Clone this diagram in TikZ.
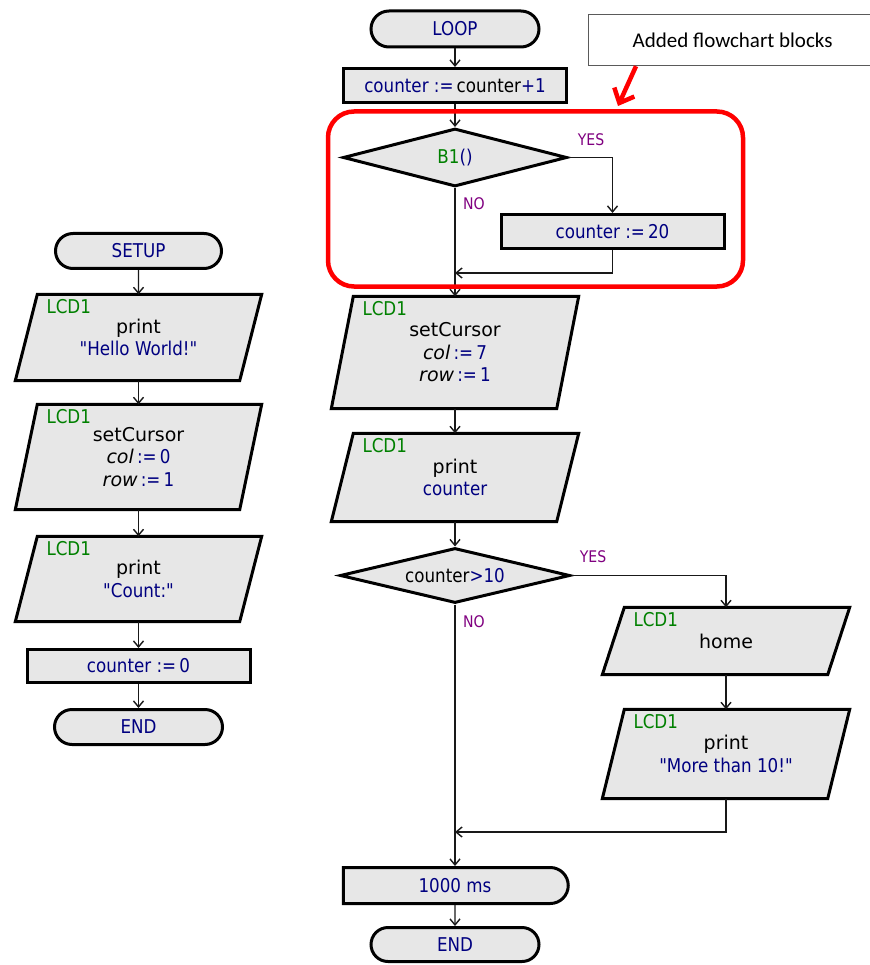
\documentclass[tikz,border=0pt]{standalone}
\usepackage{fontspec}
\setmainfont{DejaVu Sans}
\newfontfamily\condf[FakeStretch=0.88]{DejaVu Sans}
\newfontfamily\calib{Carlito}
\usetikzlibrary{shapes.geometric,shapes.misc,arrows.meta,backgrounds}
\definecolor{navy}{RGB}{0,0,128}
\definecolor{dgreen}{RGB}{0,128,0}
\definecolor{purp}{RGB}{128,0,128}
\definecolor{boxfill}{RGB}{231,231,231}
\definecolor{notegray}{RGB}{90,90,90}
\newcommand\kw[1]{{\rmfamily\color{black}#1}}
\newcommand\itv[1]{{\rmfamily\itshape\color{black}#1}}
\newcommand\bk[1]{{\color{black}#1}}
\tikzset{
  base/.style={fill=boxfill, draw=black, line width=3pt, inner sep=0pt, text=navy,
    font=\condf\fontsize{19}{22.5}\selectfont},
  term/.style={base, rounded rectangle},
  procbox/.style={base, rectangle},
  dec/.style={base, diamond, shape aspect=4},
  delayshape/.style={base, rounded rectangle, rounded rectangle left arc=none},
  paranode/.style={inner sep=0pt, align=center, text=navy,
    font=\condf\fontsize{19}{22.5}\selectfont},
  paraline/.style={fill=boxfill, draw=black, line width=3pt, line join=miter},
  lcd/.style={inner sep=0pt, text=dgreen, font=\condf\fontsize{19}{22}\selectfont},
  flow/.style={line width=1.4pt, draw=black!90, -{Straight Barb[length=6pt,width=10pt]}},
  lbl/.style={text=purp, font=\condf\fontsize{16}{18}\selectfont, inner sep=0pt},
}
\newcommand\iopara[6]{%
  \node[paranode, minimum width=#4pt, minimum height=#5pt] (#1) at (#2,#3) {#6};
  \begin{pgfonlayer}{background}
    \path[paraline] ([xshift=22pt]#1.north west) -- (#1.north east)
      -- ([xshift=-22pt]#1.south east) -- (#1.south west) -- cycle;
  \end{pgfonlayer}
  \node[lcd, anchor=west] (#1lcd) at ([xshift=31pt,yshift=-12.5pt]#1.north west) {LCD1};
}
\begin{document}
\begin{tikzpicture}[x=1pt,y=-1pt]
\useasboundingbox (0,0) rectangle (869,965);

% ---------- left column ----------
\node[term, minimum width=166pt, minimum height=35pt] (setup) at (138.5,251) {SETUP};
\iopara{hw}{138.5}{337.5}{246}{86}{\kw{print}\\"Hello World!"}
\iopara{lsc}{138.5}{457}{246}{105}{\kw{setCursor}\\\itv{col}\,:=\,0\\\itv{row}\,:=\,1}
\iopara{cnt}{138.5}{579}{246}{85}{\kw{print}\\"Count:"}
\node[procbox, minimum width=223pt, minimum height=33pt] (c0) at (138.5,666) {counter :=\,0};
\node[term, minimum width=168pt, minimum height=35pt] (end2) at (138.5,727) {END};

\draw[flow] (setup) -- (hw);
\draw[flow] (hw) -- (lsc);
\draw[flow] (lsc) -- (cnt);
\draw[flow] (cnt) -- (c0);
\draw[flow] (c0) -- (end2);

% ---------- main column ----------
\node[term, minimum width=168pt, minimum height=36pt] (loop) at (455,29) {LOOP};
\node[procbox, minimum width=223pt, minimum height=34pt] (inc) at (455,85.5) {counter :=\,\bk{counter}+1};
\node[dec, minimum width=224pt, minimum height=58pt] (b1) at (455,157.5) {{\color{dgreen}B1}()};
\node[procbox, minimum width=223pt, minimum height=34pt] (set20) at (612.5,231.5) {counter :=\,20};
\coordinate (join1) at (455,273);
\iopara{sc}{455}{352.5}{247}{112}{\kw{setCursor}\\\itv{col}\,:=\,7\\\itv{row}\,:=\,1}
\iopara{pc}{455}{477.5}{247}{88}{\kw{print}\\counter}
\node[dec, minimum width=230pt, minimum height=55pt] (gt) at (455,575.5) {\bk{counter}>10};
\iopara{home}{726}{641}{247}{67}{\kw{home}}
\iopara{pm}{726}{754}{247}{89}{\kw{print}\\"More than 10!"}
\coordinate (join2) at (455,832);
\node[delayshape, minimum width=225pt, minimum height=36pt] (delay) at (455,885.5) {1000 ms};
\node[term, minimum width=168pt, minimum height=34pt] (end1) at (455,944.5) {END};

\node[lbl] (yes1) at (591,140) {YES};
\node[lbl] (no1) at (474,204) {NO};
\node[lbl] (yes2) at (593,557) {YES};
\node[lbl] (no2) at (474,622) {NO};

\draw[flow] (loop) -- (inc);
\draw[flow] (inc) -- (b1);
\draw[flow] (b1.east) -| (set20.north);
\draw[flow] (b1.south) -- (sc.north);
\draw[flow] (set20.south) |- (join1);
\draw[flow] (sc) -- (pc);
\draw[flow] (pc) -- (gt);
\draw[flow] (gt.east) -| (home.north);
\draw[flow] (home) -- (pm);
\draw[flow] (pm.south) |- (join2);
\draw[flow] (gt.south) -- (delay.north);
\draw[flow] (delay) -- (end1);

% ---------- highlight and note ----------
\node[draw=red, line width=4.5pt, rounded corners=26pt, minimum width=415pt,
  minimum height=175pt, inner sep=0pt] (hl) at (535.5,199) {};
\node[draw=notegray, line width=1.2pt, fill=white, minimum width=292pt, minimum height=51pt,
  inner sep=0pt, anchor=north west, font=\calib\fontsize{21}{24}\selectfont] (note) at (588,14)
  {\hspace*{-4pt}Added flowchart blocks};
\coordinate (tipA) at (618,106);
\draw[red, line width=4.5pt, -{Straight Barb[length=12pt,width=22pt]}]
  ([xshift=48pt]note.south west) -- (tipA);
\end{tikzpicture}
\end{document}
